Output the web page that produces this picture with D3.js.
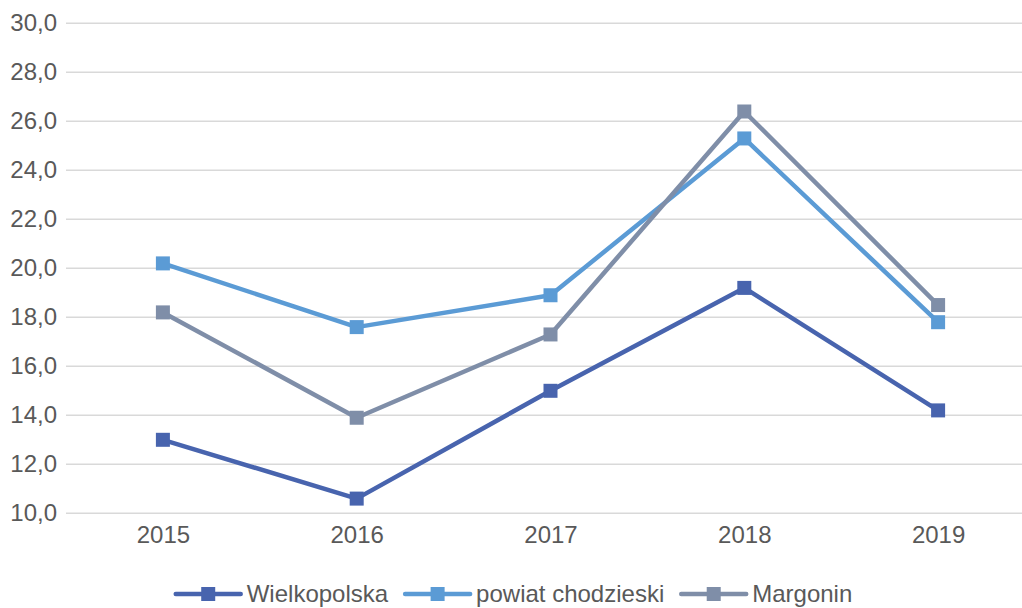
<!DOCTYPE html>
<html>
<head>
<meta charset="utf-8">
<script src="https://cdn.jsdelivr.net/npm/d3@7"></script>
<style>
  body { margin: 0; background: #fff; }
  svg { display: block; font-family: "Liberation Sans", Arial, sans-serif; }
</style>
</head>
<body>
<svg id="chart"></svg>
<script>
(function() {

    // Data.
    const years = ['2015', '2016', '2017', '2018', '2019'];
    const seriesNames = ['Wielkopolska', 'powiat chodzieski', 'Margonin'];
    const wielkopolska = [13.0, 10.6, 15.0, 19.2, 14.2];
    const powiatChodzieski = [20.2, 17.6, 18.9, 25.3, 17.8];
    const margonin = [18.2, 13.9, 17.3, 26.4, 18.5];
    const yTicks = [10, 12, 14, 16, 18, 20, 22, 24, 26, 28, 30];
    const colors = ['#4864AE', '#5B9BD5', '#7F8EA8'];

    const series = [wielkopolska, powiatChodzieski, margonin]
        .map((values, i) => ({ name: seriesNames[i], color: colors[i], values }));

    const w = 1022;
    const h = 608;

    const left = 66;
    const right = 1035;
    const top = 23.3;
    const bottom = 513.3;

    const svg = d3.select('#chart')
        .attr('width', w)
        .attr('height', h);

    // Scales
    const scaleX = d3.scalePoint().domain(years).range([left, right]).padding(0.5);
    const scaleY = d3.scaleLinear().domain([10, 30]).range([bottom, top]);

    // Grid lines
    svg.append('g')
        .selectAll('line')
        .data(yTicks)
        .join('line')
        .attr('x1', left)
        .attr('x2', right)
        .attr('y1', d => scaleY(d))
        .attr('y2', d => scaleY(d))
        .attr('stroke', '#d9d9d9')
        .attr('stroke-width', 1.5);

    // Y axis
    const yAxis = d3.axisLeft(scaleY)
        .tickValues(yTicks)
        .tickSize(0)
        .tickPadding(9)
        .tickFormat(d => d3.format('.1f')(d).replace('.', ','));

    const gy = svg.append('g')
        .attr('transform', `translate(${left}, 0)`)
        .call(yAxis);
    gy.select('.domain').remove();
    gy.selectAll('text')
        .attr('font-size', 24)
        .attr('font-family', '"Liberation Sans", Arial, sans-serif')
        .attr('fill', '#595959');

    // X axis
    const xAxis = d3.axisBottom(scaleX).tickSize(0).tickPadding(13);
    const gx = svg.append('g')
        .attr('transform', `translate(0, ${bottom})`)
        .call(xAxis);
    gx.select('.domain').remove();
    gx.selectAll('text')
        .attr('font-size', 24)
        .attr('font-family', '"Liberation Sans", Arial, sans-serif')
        .attr('fill', '#595959');

    // Lines
    const line = d3.line()
        .x((d, i) => scaleX(years[i]))
        .y(d => scaleY(d));

    const markerSize = 14;

    series.forEach(s => {
        svg.append('path')
            .datum(s.values)
            .attr('d', line)
            .attr('fill', 'none')
            .attr('stroke', s.color)
            .attr('stroke-width', 4.5)
            .attr('stroke-linejoin', 'round');

        svg.append('g')
            .selectAll('rect')
            .data(s.values)
            .join('rect')
            .attr('x', (d, i) => scaleX(years[i]) - markerSize / 2)
            .attr('y', d => scaleY(d) - markerSize / 2)
            .attr('width', markerSize)
            .attr('height', markerSize)
            .attr('fill', s.color);
    });

    // Legend (nudged up a little so descenders stay inside the frame)
    const legendY = 594;
    const lineLen = 65;
    const legend = svg.append('g');
    const items = legend.selectAll('g')
        .data(series)
        .join('g');

    items.append('line')
        .attr('x1', 0)
        .attr('x2', lineLen)
        .attr('y1', 0)
        .attr('y2', 0)
        .attr('stroke', d => d.color)
        .attr('stroke-width', 4.5)
        .attr('stroke-linecap', 'round');

    items.append('rect')
        .attr('x', lineLen / 2 - markerSize / 2)
        .attr('y', -markerSize / 2)
        .attr('width', markerSize)
        .attr('height', markerSize)
        .attr('fill', d => d.color);

    items.append('text')
        .attr('x', lineLen + 6)
        .attr('y', 0)
        .attr('dy', '0.35em')
        .attr('font-size', 24)
        .attr('fill', '#595959')
        .text(d => d.name);

    // Lay items out one after another, centred.
    let x = 0;
    const offsets = [];
    items.each(function() {
        offsets.push(x);
        const tw = d3.select(this).select('text').node().getComputedTextLength();
        x += lineLen + 6 + tw + 17;
    });
    const total = x - 17;
    const start = (w - total) / 2 + 3;
    items.attr('transform', (d, i) => `translate(${start + offsets[i]}, ${legendY})`);

})();
</script>
</body>
</html>
